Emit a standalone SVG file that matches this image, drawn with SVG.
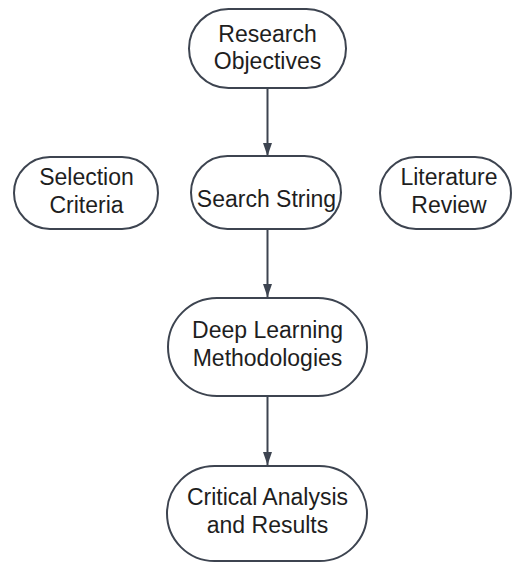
<svg xmlns="http://www.w3.org/2000/svg" width="513" height="564" viewBox="0 0 513 564">
  <style>
    .node { fill: #ffffff; stroke: #3d4450; stroke-width: 2; }
    .label { font-family: "Liberation Sans", Arial, sans-serif; font-size: 23px; fill: #1e1e1e; text-anchor: middle; }
    .edge { fill: none; stroke: #3d4450; stroke-width: 2; }
  </style>
  <defs>
    <marker id="arrow" viewBox="0 0 13 9" refX="13" refY="4.5" markerWidth="13" markerHeight="9" markerUnits="userSpaceOnUse" orient="auto">
      <path d="M0,0 L13,4.5 L0,9 Z" fill="#3d4450"/>
    </marker>
  </defs>
  <rect width="513" height="564" fill="#ffffff"/>

  <g id="connectors">
    <path class="edge" d="M267.5,89 V156" marker-end="url(#arrow)"/>
    <path class="edge" d="M267.5,230 V297" marker-end="url(#arrow)"/>
    <path class="edge" d="M267.5,397 V465" marker-end="url(#arrow)"/>
  </g>

  <g id="research-objectives">
    <rect class="node" x="189" y="9" width="157" height="79" rx="39.5"/>
    <text class="label" x="267.5" y="42">Research</text>
    <text class="label" x="267.5" y="69">Objectives</text>
  </g>

  <g id="selection-criteria">
    <rect class="node" x="14" y="157" width="144" height="72" rx="36"/>
    <text class="label" x="86.5" y="185">Selection</text>
    <text class="label" x="86.5" y="213">Criteria</text>
  </g>

  <g id="search-string">
    <rect class="node" x="191" y="156" width="150" height="73" rx="36.5"/>
    <text class="label" x="266.5" y="207">Search String</text>
  </g>

  <g id="literature-review">
    <rect class="node" x="380" y="157" width="131" height="72" rx="36"/>
    <text class="label" x="449" y="185">Literature</text>
    <text class="label" x="449" y="213">Review</text>
  </g>

  <g id="deep-learning-methodologies">
    <rect class="node" x="168" y="298" width="199" height="98" rx="49"/>
    <text class="label" x="267.5" y="338">Deep Learning</text>
    <text class="label" x="267.5" y="366">Methodologies</text>
  </g>

  <g id="critical-analysis-results">
    <rect class="node" x="167" y="466" width="200" height="95" rx="47.5"/>
    <text class="label" x="267.5" y="505">Critical Analysis</text>
    <text class="label" x="267.5" y="533">and Results</text>
  </g>
</svg>
